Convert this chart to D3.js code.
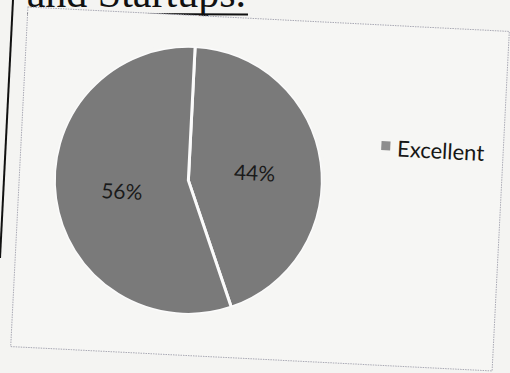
<!DOCTYPE html>
<html>
<head>
<meta charset="utf-8">
<script src="https://cdn.jsdelivr.net/npm/d3@7/dist/d3.min.js"></script>
<style>
  html, body { margin: 0; padding: 0; background: #f4f4f2; }
  svg { display: block; }
</style>
</head>
<body>
<svg id="chart" width="510" height="373"></svg>
<script>
// ---- data ----
const categories = ["Excellent", ""];
const values = [44, 56];
const labels = ["44%", "56%"];
const legendItems = ["Excellent"];
const titleText = "and Startups.";

// ---- drawing ----
const svg = d3.select("#chart");
svg.append("rect").attr("width", 510).attr("height", 373).attr("fill", "#f4f4f2");

// document title (partly cut off at top, as in the scan)
svg.append("text")
  .attr("x", 246).attr("y", 7)
  .attr("text-anchor", "end")
  .attr("font-family", "Liberation Serif, serif")
  .attr("font-size", 42)
  .attr("fill", "#111")
  .text(titleText);
svg.append("line")
  .attr("x1", 27).attr("x2", 248).attr("y1", 13.5).attr("y2", 14.5)
  .attr("stroke", "#111").attr("stroke-width", 2.2);

// page border line on the left
svg.append("line")
  .attr("x1", 13).attr("y1", 0).attr("x2", 0).attr("y2", 258)
  .attr("stroke", "#111").attr("stroke-width", 2);

// chart (scanned slightly rotated)
const g = svg.append("g").attr("transform", "rotate(2.9,260,189)");

g.append("rect")
  .attr("x", 19).attr("y", 19).attr("width", 482).attr("height", 340)
  .attr("fill", "#f6f6f4")
  .attr("stroke", "#a9a9b4").attr("stroke-width", 1)
  .attr("stroke-dasharray", "1.5,1");

const cx = 188, cy = 184, r = 134;
const pie = d3.pie().sort(null).value(d => d)(values);
const arc = d3.arc().innerRadius(0).outerRadius(r);
const pieG = g.append("g").attr("transform", `translate(${cx},${cy})`);

pieG.selectAll("path.slice")
  .data(pie)
  .join("path")
  .attr("class", "slice")
  .attr("d", arc)
  .attr("fill", "#7a7a7a")
  .attr("stroke", "#fbfbfb")
  .attr("stroke-width", 3)
  .attr("stroke-linejoin", "round");

// outer edge: hide white stroke around circumference
pieG.append("circle").attr("r", r + 1.5)
  .attr("fill", "none").attr("stroke", "#f6f6f4").attr("stroke-width", 3);

pieG.selectAll("text.lbl")
  .data(pie)
  .join("text")
  .attr("class", "lbl")
  .attr("transform", d => {
    const c = arc.centroid(d);
    return `translate(${c[0]},${c[1] + 2})`;
  })
  .attr("text-anchor", "middle")
  .attr("dy", "0.35em")
  .attr("font-family", "Lato, 'Open Sans', sans-serif")
  .attr("font-size", 21)
  .attr("fill", "#1a1a1a")
  .text((d, i) => labels[i]);

// legend
const lg = g.append("g").attr("transform", "translate(379,142)");
lg.selectAll("g.item")
  .data(legendItems)
  .join("g")
  .attr("class", "item")
  .each(function (d) {
    const it = d3.select(this);
    it.append("rect").attr("x", 0).attr("y", -7).attr("width", 9).attr("height", 9)
      .attr("fill", "#8e8e8e");
    it.append("text").attr("x", 16).attr("y", 0).attr("dy", "0.35em")
      .attr("font-family", "Lato, 'Open Sans', sans-serif")
      .attr("font-size", 22)
      .attr("fill", "#161616")
      .text(d);
  });
</script>
</body>
</html>
